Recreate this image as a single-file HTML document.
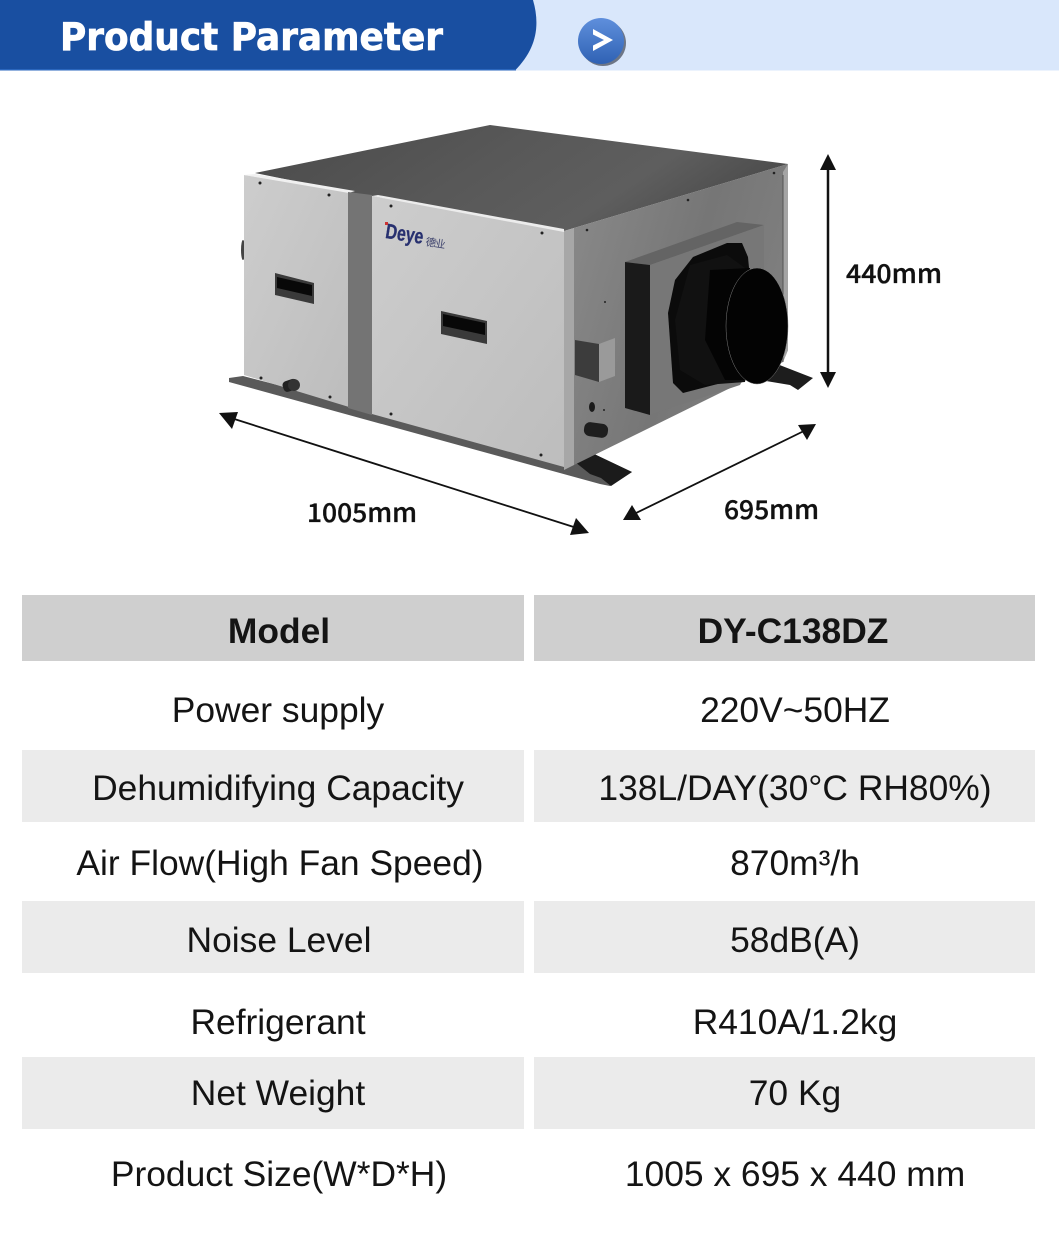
<!DOCTYPE html>
<html><head><meta charset="utf-8"><style>
html,body{margin:0;padding:0;background:#fff}
svg{display:block}
.t{font-family:"Liberation Sans",sans-serif;font-size:35.4px;fill:#141414;text-anchor:middle}
.d{font-family:"Noto Sans CJK SC","DejaVu Sans",sans-serif;font-size:26px;font-weight:500;fill:#111;stroke:#111;stroke-width:.35}
</style></head><body>
<svg width="1059" height="1236" viewBox="0 0 1059 1236" xmlns="http://www.w3.org/2000/svg">
<defs>
<linearGradient id="top" x1="0" y1="0" x2="1" y2="0.3"><stop offset="0" stop-color="#4a4a4a"/><stop offset=".5" stop-color="#585858"/><stop offset=".8" stop-color="#5e5e5e"/><stop offset="1" stop-color="#4e4e4e"/></linearGradient>
<linearGradient id="pan" x1="0" y1="0" x2="1" y2="1"><stop offset="0" stop-color="#cdcdcd"/><stop offset="1" stop-color="#bdbdbd"/></linearGradient>
<linearGradient id="side" x1="0" y1="0" x2="1" y2="0.4"><stop offset="0" stop-color="#8a8a8a"/><stop offset=".6" stop-color="#767676"/><stop offset="1" stop-color="#7f7f7f"/></linearGradient>
<linearGradient id="btn" x1="0" y1="0" x2="0" y2="1"><stop offset="0" stop-color="#5f8fdc"/><stop offset="1" stop-color="#2f62b4"/></linearGradient>
</defs>
<rect width="1059" height="70.5" fill="#d9e7fb"/>
<path d="M0 0H533C541 28 535 50 515 70.5H0Z" fill="#194fa1"/>
<rect y="69" width="516" height="1.5" fill="#2a66bd"/>
<text x="60" y="50" font-family="'DejaVu Sans',sans-serif" font-weight="700" font-size="38" fill="#fff" stroke="#fff" stroke-width=".7" textLength="383" lengthAdjust="spacingAndGlyphs">Product Parameter</text>
<ellipse cx="603" cy="43" rx="23" ry="23" fill="#6d7686"/>
<ellipse cx="601" cy="41" rx="23" ry="23" fill="url(#btn)"/>
<path d="M593 29 L613 40 L593 51 L593 45.500 L604 40 L593 34.500Z" fill="#fff"/>

<!-- unit -->
<polygon points="229,378 243,376 574,462 592,453 632,472 610,486 600,484 229,382" fill="#5a5a5a"/>
<polygon points="575,462 592,453 632,472 611,486 606,482 601,478 590,474" fill="#1b1b1b"/>
<polygon points="777,364 813,378 798,390 790,385 760,380" fill="#1d1d1d"/>
<ellipse cx="243" cy="250" rx="2" ry="10" fill="#444"/>
<polygon points="255,173 490,125 788,164 574,228 564,231 372,196 348,192" fill="url(#top)"/>
<polygon points="574,228 788,164 788,350 783,362 574,465" fill="url(#side)"/>
<polygon points="783,172 788,164 788,350 783,362" fill="#a4a4a4"/>
<line x1="783" y1="175" x2="783" y2="362" stroke="#555" stroke-width="1"/>
<polygon points="564,231 574,228 574,465 564,470" fill="#a7a7a7"/>
<polygon points="244,175 349,192 349,407 244,375" fill="url(#pan)"/>
<polygon points="244,175 255,174 355,191 349,193" fill="#f0f0f0"/>
<polygon points="348,192 372,195 372,415 348,408" fill="#747474"/>
<polygon points="372,196 564,231 564,467 372,414" fill="url(#pan)"/>
<polygon points="372,196 378,195 564,229 564,232" fill="#ececec"/>
<!-- handles -->
<polygon points="275,273 314,283 314,304 275,295" fill="#3a3a3a"/>
<polygon points="277,277 312,285 312,296 277,288" fill="#080808"/>
<polygon points="441,311 487,321 487,344 441,334" fill="#3a3a3a"/>
<polygon points="443,314 485,323 485,335 443,326" fill="#080808"/>
<!-- screws -->
<g fill="#222"><circle cx="260" cy="183" r="1.500"/><circle cx="329" cy="195" r="1.500"/><circle cx="261" cy="378" r="1.500"/><circle cx="330" cy="397" r="1.500"/><circle cx="391" cy="206" r="1.500"/><circle cx="542" cy="233" r="1.500"/><circle cx="391" cy="414" r="1.500"/><circle cx="541" cy="455" r="1.500"/><circle cx="587" cy="230" r="1.300"/><circle cx="688" cy="200" r="1.300"/><circle cx="774" cy="173" r="1.300"/><circle cx="605" cy="302" r="1"/><circle cx="604" cy="410" r="1"/></g>
<!-- left pipe -->
<rect x="283" y="380" width="15" height="11" rx="4" fill="#222" transform="rotate(-18 290 386)"/>
<circle cx="294" cy="385" r="6" fill="#333"/>
<!-- logo -->
<g transform="rotate(9 386 230)"><text x="386" y="238" font-family="'Liberation Sans',sans-serif" font-weight="700" font-size="21" fill="#27306f" stroke="#27306f" stroke-width=".3" textLength="38" lengthAdjust="spacingAndGlyphs">Deye</text>
<text x="427" y="239" font-family="'Noto Sans CJK SC',sans-serif" font-size="10.500" fill="#3a3f6a" textLength="20">德业</text></g>
<rect x="385" y="222" width="3" height="3" fill="#c33"/>
<!-- small box and pipes -->
<polygon points="575,340 599,344 599,382 575,375" fill="#3c3c3c"/>
<polygon points="599,344 615,338 615,376 599,382" fill="#9a9a9a"/>
<ellipse cx="592" cy="407" rx="3" ry="5" fill="#1b1b1b"/>
<rect x="584" y="423" width="24" height="14" rx="6" fill="#1e1e1e" transform="rotate(8 596 430)"/>
<!-- duct box -->
<polygon points="625,262 737,222 764,225 650,265" fill="#646464"/>
<polygon points="650,265 764,225 764,340 740,385 650,415" fill="#777"/>
<polygon points="625,262 650,265 650,415 625,408" fill="#1a1a1a"/>
<!-- flange & funnel -->
<polygon points="693,257 727,243 742,243 748,257 752,300 755,370 733,380 683,393 673,383 668,313 675,280" fill="#0b0b0b"/>
<polygon points="690,265 727,255 745,268 755,300 745,382 705,385 680,370 675,320" fill="#111"/>
<polygon points="710,270 750,268 752,380 725,380 705,340" fill="#040404"/>
<ellipse cx="757" cy="326" rx="31" ry="58" fill="#030303" stroke="#7f7f7f" stroke-width=".5"/>
<!-- arrows -->
<g fill="#111" stroke="none">
<line x1="828" y1="165" x2="828" y2="378" stroke="#111" stroke-width="2.500"/>
<polygon points="828,154 836,170 820,170"/><polygon points="828,388 836,372 820,372"/>
<line x1="228" y1="417" x2="580" y2="529" stroke="#111" stroke-width="1.800"/>
<polygon points="219,413 238,412 232,429"/><polygon points="589,533 570,535 576,518"/>
<line x1="632" y1="515" x2="808" y2="429" stroke="#111" stroke-width="1.800"/>
<polygon points="623,520 641,520 632,505"/><polygon points="816,424 798,425 807,440"/>
</g>
<text class="d" x="846" y="283" textLength="96" lengthAdjust="spacingAndGlyphs">440mm</text>
<text class="d" x="307" y="522" textLength="110" lengthAdjust="spacingAndGlyphs">1005mm</text>
<text class="d" x="724" y="519" textLength="95" lengthAdjust="spacingAndGlyphs">695mm</text>

<!-- table -->
<g fill="#cfcfcf"><rect x="22" y="595" width="502" height="66"/><rect x="534" y="595" width="501" height="66"/></g>
<g fill="#ebebeb"><rect x="22" y="750" width="502" height="72"/><rect x="534" y="750" width="501" height="72"/><rect x="22" y="901" width="502" height="72"/><rect x="534" y="901" width="501" height="72"/><rect x="22" y="1057" width="502" height="72"/><rect x="534" y="1057" width="501" height="72"/></g>
<text class="t" x="279" y="643" font-weight="700">Model</text>
<text class="t" x="793" y="643" font-weight="700">DY-C138DZ</text>
<text class="t" x="278" y="722">Power supply</text>
<text class="t" x="795" y="722">220V~50HZ</text>
<text class="t" x="278" y="800">Dehumidifying Capacity</text>
<text class="t" x="795" y="800">138L/DAY(30°C RH80%)</text>
<text class="t" x="280" y="875">Air Flow(High Fan Speed)</text>
<text class="t" x="795" y="875">870m³/h</text>
<text class="t" x="279" y="952">Noise Level</text>
<text class="t" x="795" y="952">58dB(A)</text>
<text class="t" x="278" y="1034">Refrigerant</text>
<text class="t" x="795" y="1034">R410A/1.2kg</text>
<text class="t" x="278" y="1105">Net Weight</text>
<text class="t" x="795" y="1105">70 Kg</text>
<text class="t" x="279" y="1186">Product Size(W*D*H)</text>
<text class="t" x="795" y="1186">1005 x 695 x 440 mm</text>
</svg>
</body></html>
